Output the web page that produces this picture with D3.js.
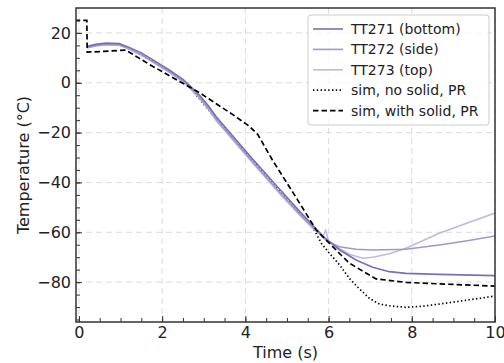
<!DOCTYPE html>
<html>
<head>
<meta charset="utf-8">
<script src="https://cdn.jsdelivr.net/npm/d3@7"></script>
<style>
  body { margin: 0; background: #fff; }
  text { font-family: "DejaVu Sans", sans-serif; fill: #222; }
</style>
</head>
<body>
<script>
var W = 504, H = 363;
var m = {left: 76, right: 9, top: 8, bottom: 41};

// measured series, [time s, temperature C]
var tt271 = [[0.2,14.6],[0.4,15.4],[0.65,15.9],[0.97,15.7],[1.21,14.2],[1.5,12],[1.7,10],[2.17,5.2],[2.5,1.4],[2.65,-0.9],[2.9,-5],[3.13,-9.6],[3.3,-13.6],[4.1,-29.2],[4.82,-42.6],[5.3,-51.5],[5.62,-57.2],[5.86,-61.5],[6.0,-63.5],[6.26,-67],[6.66,-71.1],[7.06,-74],[7.46,-75.8],[7.86,-76.5],[8.66,-76.9],[10,-77.4]];
var tt272 = [[0.2,14.2],[0.4,15],[0.65,15.5],[0.97,15.3],[1.21,13.7],[1.5,11.4],[1.7,9.3],[2.17,4.5],[2.5,0.8],[2.65,-1.6],[2.9,-5.8],[3.13,-10.4],[3.3,-14.6],[4.1,-30.2],[4.82,-43.8],[5.3,-52.5],[5.62,-58],[5.86,-62],[6.0,-63.8],[6.26,-65.8],[6.66,-66.8],[7.06,-67.1],[7.86,-66.8],[8.66,-65.1],[9.3,-63.5],[10,-61.5]];
var tt273 = [[0.2,14],[0.4,14.8],[0.65,15.2],[0.97,15],[1.21,13.4],[1.5,11],[1.7,9],[2.17,4.2],[2.5,0.4],[2.65,-2],[2.9,-6.2],[3.13,-11],[3.3,-15.2],[4.1,-30.8],[4.82,-44.4],[5.3,-53],[5.62,-58.4],[5.86,-61.8],[5.93,-59.2],[6.0,-63.5],[6.26,-66.5],[6.5,-68.8],[6.82,-70.4],[7.06,-70],[7.46,-68.6],[7.86,-66.4],[8.66,-60.4],[9.3,-56.5],[10,-52.3]];
var simNoSolid = [[0.2,14.3],[0.65,15.5],[0.97,15.2],[1.21,13.6],[1.7,9.3],[2.17,4.5],[2.65,-1.5],[3.3,-14.6],[4.1,-30],[4.82,-43.6],[5.3,-52.5],[5.62,-58],[5.83,-64.5],[6.0,-68],[6.26,-73],[6.5,-78.5],[6.7,-82],[6.98,-86.5],[7.22,-88.8],[7.5,-89.6],[7.86,-90.1],[8.3,-89.6],[8.66,-88.8],[9.3,-87.3],[10,-85.6]];
var simSolid = [[-0.1,25],[0.19,25],[0.2,12.3],[0.6,12.6],[1.13,13.1],[1.7,7.3],[2.9,-4],[3.7,-12.8],[4.1,-17.5],[4.3,-20.8],[4.65,-31],[5.2,-45.5],[5.7,-59],[6.34,-69.8],[6.5,-72.4],[7.14,-78.7],[7.86,-80.1],[8.66,-80.7],[10,-81.6]];

var xTicks = [0, 2, 4, 6, 8, 10];
var yTicks = [-80, -60, -40, -20, 0, 20];

var series = [
  {name: "TT271 (bottom)", data: tt271, color: "#7770b5", dash: null},
  {name: "TT272 (side)", data: tt272, color: "#9e99cc", dash: null},
  {name: "TT273 (top)", data: tt273, color: "#bdbbde", dash: null},
  {name: "sim, no solid, PR", data: simNoSolid, color: "#000", dash: "1.4,2.4"},
  {name: "sim, with solid, PR", data: simSolid, color: "#000", dash: "5.5,3"}
];

var svg = d3.select("body").append("svg")
  .attr("width", W)
  .attr("height", H);

var x = d3.scaleLinear().domain([-0.07, 10]).range([m.left, W - m.right]);
var y = d3.scaleLinear().domain([-96, 30]).range([H - m.bottom, m.top]);

svg.append("clipPath").attr("id", "clip")
  .append("rect")
  .attr("x", m.left).attr("y", m.top)
  .attr("width", W - m.left - m.right).attr("height", H - m.top - m.bottom);

// grid
var grid = svg.append("g").attr("stroke", "#dcdcdc").attr("stroke-dasharray", "6,4").attr("stroke-width", 1);
grid.selectAll(".gx").data(xTicks).enter().append("line")
  .attr("x1", function(d) { return x(d); }).attr("x2", function(d) { return x(d); })
  .attr("y1", m.top).attr("y2", H - m.bottom);
grid.selectAll(".gy").data(yTicks).enter().append("line")
  .attr("y1", function(d) { return y(d); }).attr("y2", function(d) { return y(d); })
  .attr("x1", m.left).attr("x2", W - m.right);

// lines
var line = d3.line()
  .x(function(d) { return x(d[0]); })
  .y(function(d) { return y(d[1]); });

var order = [3, 2, 1, 0, 4];
var plot = svg.append("g").attr("clip-path", "url(#clip)");
order.forEach(function(i) {
  var s = series[i];
  plot.append("path")
    .datum(s.data)
    .attr("fill", "none")
    .attr("stroke", s.color)
    .attr("stroke-width", i < 3 ? 1.6 : 1.7)
    .attr("stroke-dasharray", s.dash)
    .attr("d", line);
});

// axes
var xAxis = d3.axisBottom(x).tickValues(xTicks).tickSize(-6).tickPadding(5).tickFormat(d3.format("d"));
var xMinor = d3.axisBottom(x).tickValues(d3.range(0, 10.01, 0.5)).tickSize(-4).tickFormat("");
var yAxis = d3.axisLeft(y).tickValues(yTicks).tickSize(-6).tickPadding(5).tickFormat(d3.format("d"));
var yMinor = d3.axisLeft(y).tickValues(d3.range(-95, 30, 5)).tickSize(-4).tickFormat("");

function styleAxis(g) {
  g.select(".domain").remove();
  g.selectAll("line").attr("stroke", "#333").attr("stroke-width", 1);
  g.selectAll("text").attr("font-size", "16px").attr("fill", "#222");
}

svg.append("g").attr("transform", "translate(0," + (H - m.bottom) + ")").call(xMinor).call(styleAxis);
svg.append("g").attr("transform", "translate(0," + (H - m.bottom) + ")").call(xAxis).call(styleAxis);
svg.append("g").attr("transform", "translate(" + m.left + ",0)").call(yMinor).call(styleAxis);
svg.append("g").attr("transform", "translate(" + m.left + ",0)").call(yAxis).call(styleAxis);

// frame
svg.append("rect")
  .attr("x", m.left).attr("y", m.top)
  .attr("width", W - m.left - m.right).attr("height", H - m.top - m.bottom)
  .attr("fill", "none").attr("stroke", "#333").attr("stroke-width", 1.5);

// axis labels
svg.append("text")
  .attr("x", (m.left + W - m.right) / 2).attr("y", 358)
  .attr("text-anchor", "middle").attr("font-size", "16px")
  .text("Time (s)");

svg.append("text")
  .attr("transform", "rotate(-90)")
  .attr("x", -(m.top + H - m.bottom) / 2).attr("y", 29)
  .attr("text-anchor", "middle").attr("font-size", "16px")
  .text("Temperature (°C)");

// legend
var lg = svg.append("g");
lg.append("rect")
  .attr("x", 308).attr("y", 15).attr("width", 181).attr("height", 110)
  .attr("rx", 3)
  .attr("fill", "#fff").attr("fill-opacity", 0.8)
  .attr("stroke", "#ccc");

series.forEach(function(s, i) {
  var ly = 29 + i * 20.4;
  lg.append("line")
    .attr("x1", 313).attr("x2", 343).attr("y1", ly).attr("y2", ly)
    .attr("stroke", s.color).attr("stroke-width", i < 3 ? 1.6 : 1.7)
    .attr("stroke-dasharray", s.dash);
  lg.append("text")
    .attr("x", 351).attr("y", ly + 5)
    .attr("font-size", "14px")
    .text(s.name);
});
</script>
</body>
</html>
